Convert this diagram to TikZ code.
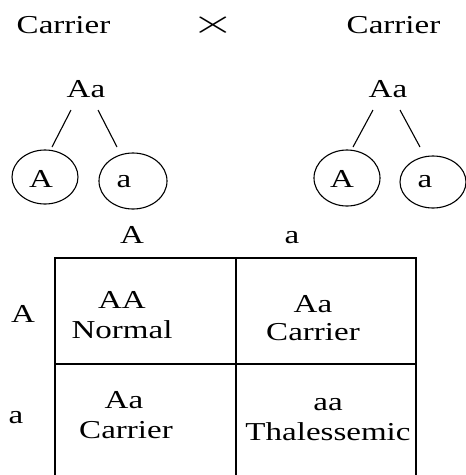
\documentclass[tikz,border=0pt]{standalone}
\usepackage{fontspec}
\setmainfont{Liberation Serif}[FakeStretch=1.28]
\begin{document}
\begin{tikzpicture}[x=1pt,y=-1pt,
  txt/.style={inner sep=0pt,anchor=base,font=\fontsize{25.8}{25.8}\selectfont},
  tline/.style={line width=1.1pt},
  grid/.style={line width=2pt}]
\useasboundingbox (0,0) rectangle (466,475);
% parents
\node[txt] (cL) at (63.5,33) {Carrier};
\node[txt] (cR) at (393.5,33) {Carrier};
\node[inner sep=0pt,font=\fontsize{24}{24}\selectfont] (x) at (213.5,25.5) {\scalebox{2.25}[1.35]{$\times$}};
\node[txt] (aaL) at (86,97) {Aa};
\node[txt] (aaR) at (388,97) {Aa};
% gametes
\draw[line width=1.1pt] (45,177) ellipse [x radius=33, y radius=27];
\coordinate (eAL) at (45,150);
\draw[line width=1.1pt] (133,181) ellipse [x radius=34, y radius=28];
\coordinate (eaL) at (133,153);
\draw[line width=1.1pt] (347,178) ellipse [x radius=33, y radius=28];
\coordinate (eAR) at (347,150);
\draw[line width=1.1pt] (433,182) ellipse [x radius=33, y radius=26];
\coordinate (eaR) at (433,156);
\node[txt] (gAL) at (41,187) {A};
\node[txt] (gaL) at (124,187) {a};
\node[txt] (gAR) at (342,187) {A};
\node[txt] (gaR) at (425,187) {a};
\draw[tline] ([shift={(-15,13)}]aaL.base) -- ([shift={(7,-3)}]eAL);
\draw[tline] ([shift={(12,13)}]aaL.base) -- ([shift={(-16,-6)}]eaL);
\draw[tline] ([shift={(-15,13)}]aaR.base) -- ([shift={(6,-3)}]eAR);
\draw[tline] ([shift={(12,13)}]aaR.base) -- ([shift={(-13,-9)}]eaR);
% headers
\node[txt] (hA) at (132,243) {A};
\node[txt] (ha) at (292,243) {a};
\node[txt] (rA) at (23,322) {A};
\node[txt] (ra) at (16,423) {a};
% grid
\draw[grid] (55,476) -- (55,258) -- (416,258) -- (416,476);
\draw[grid] (236,258) -- (236,476);
\draw[grid] (55,364) -- (416,364);
% cells
\node[txt] (c11a) at (122,308) {AA};
\node[txt] (c11b) at (122,338) {Normal};
\node[txt] (c12a) at (313,312) {Aa};
\node[txt] (c12b) at (313,340) {Carrier};
\node[txt] (c21a) at (124,408) {Aa};
\node[txt] (c21b) at (126,438) {Carrier};
\node[txt] (c22a) at (328,410) {aa};
\node[txt] (c22b) at (328,440) {Thalessemic};
\end{tikzpicture}
\end{document}
